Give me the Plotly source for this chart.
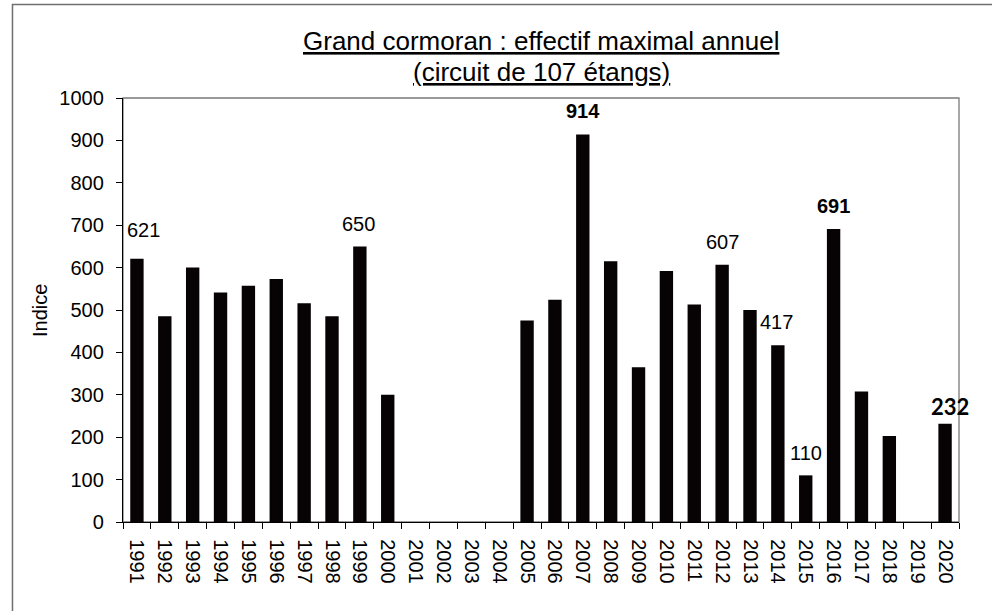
import plotly.graph_objects as go

years = [str(y) for y in range(1991, 2021)]
values = [621, 485, 600, 541, 557, 573, 516, 485, 650, 300,
          None, None, None, None, 475, 524, 914, 615, 365, 592,
          513, 607, 500, 417, 110, 691, 308, 203, None, 232]

label_years = ["1991", "1999", "2007", "2012", "2014", "2015", "2016", "2020"]
label_values = [621, 650, 914, 607, 417, 110, 691, 232]
label_bold = [False, False, True, False, False, False, True, True]

title_line1 = "Grand cormoran : effectif maximal annuel"
title_line2 = "(circuit de 107 étangs)"
y_title = "Indice"

# styling / placement (pixels) for labels
label_shift = {"1991": (7, 29), "1999": (-1, 22), "2007": (0, 23), "2012": (0, 23),
               "2014": (-1, 23), "2015": (0, 22), "2016": (0, 23), "2020": (5, 17)}

FONT = "Liberation Sans, Arial, sans-serif"

fig = go.Figure()
fig.add_trace(go.Bar(x=years, y=values, marker=dict(color="#070203", line=dict(width=0)),
                     hoverinfo="x+y"))

ann = []
for yr, v, b in zip(label_years, label_values, label_bold):
    dx, dy = label_shift[yr]
    if yr == "2020":
        f = dict(family="Lato, sans-serif", size=22, color="#000000", weight="bold")
    else:
        f = dict(family=FONT, size=20, color="#000000", weight="bold" if b else "normal")
    ann.append(dict(x=years.index(yr), y=v, xref="x", yref="y", text=str(v), showarrow=False,
                    xanchor="center", yanchor="middle", xshift=dx, yshift=dy, font=f))

ann.append(dict(x=0.5, y=1.094, xref="paper", yref="paper", text=title_line1, showarrow=False,
                xanchor="center", yanchor="bottom",
                font=dict(family=FONT, size=26, color="#000000", lineposition="under")))
ann.append(dict(x=0.5, y=1.021, xref="paper", yref="paper", text=title_line2, showarrow=False,
                xanchor="center", yanchor="bottom",
                font=dict(family=FONT, size=26, color="#000000", lineposition="under")))
ann.append(dict(x=-0.0993, y=0.5, xref="paper", yref="paper", text=y_title, showarrow=False,
                textangle=-90, xanchor="center", yanchor="middle",
                font=dict(family=FONT, size=20, color="#000000")))

shapes = [
    dict(type="rect", xref="paper", yref="paper", x0=0, y0=0, x1=1, y1=1,
         line=dict(color="#7a7a7a", width=1.3), fillcolor="rgba(0,0,0,0)", layer="below"),
    dict(type="rect", xref="paper", yref="paper", x0=-0.1322, y0=-0.6, x1=1.2, y1=1.2205,
         line=dict(color="#6f6f6f", width=1.5), fillcolor="rgba(0,0,0,0)", layer="below"),
]

fig.update_layout(
    width=992, height=611,
    margin=dict(l=123, r=33, t=98, b=89, autoexpand=False),
    paper_bgcolor="white", plot_bgcolor="white",
    bargap=0.52, showlegend=False,
    annotations=ann, shapes=shapes,
    font=dict(family=FONT, size=20, color="#000000"),
)
fig.update_xaxes(type="category", range=[-0.5, len(years) - 0.5], autorange=False,
                 showline=True, linecolor="#000000", linewidth=1.3,
                 ticks="outside", tickson="boundaries", ticklen=6, tickcolor="#000000",
                 tickangle=90, tickfont=dict(family=FONT, size=20, color="#000000"),
                 showgrid=False, zeroline=False, ticklabelstandoff=12)
fig.update_yaxes(range=[0, 1000], autorange=False, dtick=100, showline=True,
                 linecolor="#000000", linewidth=1.3,
                 ticks="outside", ticklen=6, tickcolor="#000000",
                 tickfont=dict(family=FONT, size=20, color="#000000"),
                 showgrid=False, zeroline=False, ticklabelstandoff=8)

fig.write_html("out.html", config={"displayModeBar": False},
               post_script="document.body.style.margin='0';document.body.style.overflow='hidden';")
